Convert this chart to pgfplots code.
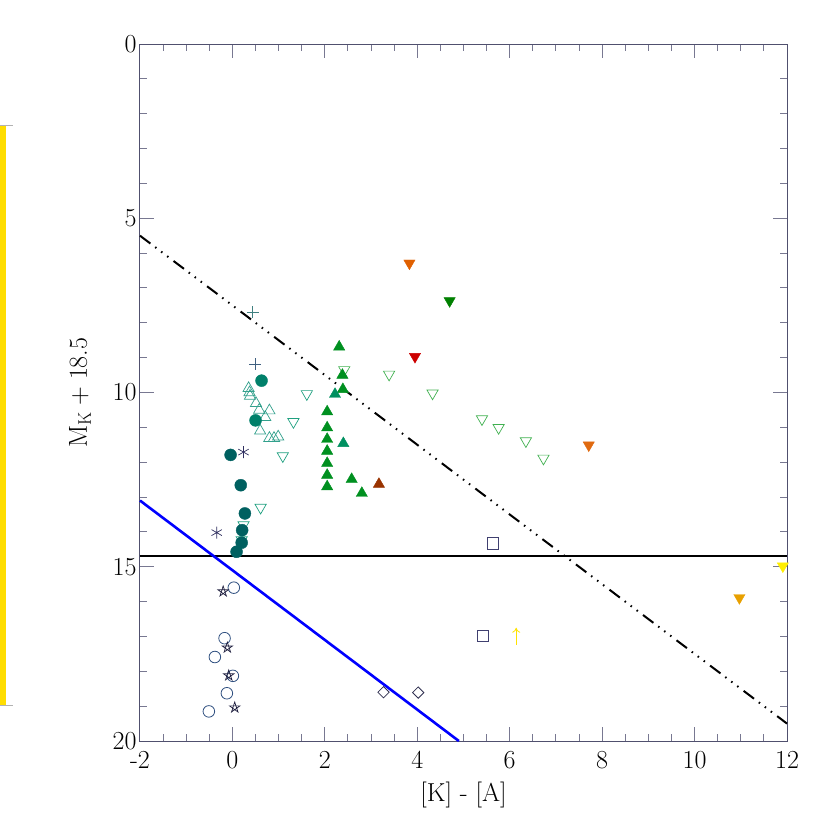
\documentclass[border=0pt]{standalone}
\usepackage{pgfplots}
\pgfplotsset{compat=1.18}
\usetikzlibrary{arrows.meta}
\definecolor{axcol}{RGB}{80,80,110}
\definecolor{tickcol}{RGB}{120,120,145}
\definecolor{barcol}{RGB}{255,221,0}
\definecolor{circA}{RGB}{0,128,106}
\definecolor{circB}{RGB}{0,96,96}
\definecolor{otriup}{RGB}{50,160,140}
\definecolor{otridnA}{RGB}{32,160,128}
\definecolor{otridnB}{RGB}{64,176,80}
\definecolor{ftriG}{RGB}{0,144,32}
\definecolor{ftriT}{RGB}{0,144,96}
\definecolor{brownc}{RGB}{153,51,0}
\definecolor{orangeA}{RGB}{224,96,0}
\definecolor{greenD}{RGB}{0,128,0}
\definecolor{redD}{RGB}{204,0,0}
\definecolor{orangeB}{RGB}{224,106,16}
\definecolor{goldD}{RGB}{232,160,0}
\definecolor{yellD}{RGB}{255,238,0}
\definecolor{plusA}{RGB}{64,128,128}
\definecolor{plusB}{RGB}{64,96,128}
\definecolor{astc}{RGB}{48,48,96}
\definecolor{ocirc}{RGB}{48,80,128}
\definecolor{starc}{RGB}{32,32,64}
\definecolor{diamc}{RGB}{48,48,80}
\definecolor{sqc}{RGB}{64,64,112}
\pgfdeclareplotmark{pentagram}{%
  \pgfpathmoveto{\pgfqpointpolar{90}{\pgfplotmarksize}}%
  \pgfpathlineto{\pgfqpointpolar{234}{\pgfplotmarksize}}%
  \pgfpathlineto{\pgfqpointpolar{18}{\pgfplotmarksize}}%
  \pgfpathlineto{\pgfqpointpolar{162}{\pgfplotmarksize}}%
  \pgfpathlineto{\pgfqpointpolar{306}{\pgfplotmarksize}}%
  \pgfpathclose
  \pgfusepathqstroke}
\begin{document}
\begin{tikzpicture}
\begin{axis}[
  scale only axis, width=647bp, height=697bp,
  xmin=-2, xmax=12, ymin=0, ymax=20, y dir=reverse,
  xtick={-2,0,...,12}, ytick={0,5,...,20},
  minor x tick num=3, minor y tick num=4,
  tick align=inside, major tick length=14bp, minor tick length=7bp,
  axis line style={draw=axcol, line width=1bp},
  tick style={draw=tickcol, line width=1bp},
  tick label style={font=\fontsize{26bp}{30bp}\selectfont},
  x tick label style={yshift=-7bp},
  /pgf/number format/assume math mode=true,
  label style={font=\fontsize{26bp}{30bp}\selectfont},
  xlabel={[K] - [A]},
  ylabel={M\textsubscript{K}\hspace{0.25em}+\hspace{0.25em}18.5},
  xlabel style={at={(axis description cs:0.5,-0.078)}, anchor=center},
  ylabel style={at={(axis description cs:-0.082,0.5)}, anchor=base},
  clip=false,
]
% lines
\addplot[black, line width=2bp, dash pattern=on 13bp off 6bp on 1.5bp off 6bp on 1.5bp off 6bp on 1.5bp off 6.5bp] coordinates {(-2,5.5) (12,19.5)};
\addplot[black, line width=2bp] coordinates {(-2,14.7) (12,14.7)};
\addplot[blue, line width=2.6bp] coordinates {(-2,13.1) (4.9,20)};
% open up triangles
\addplot[only marks, mark=triangle, mark size=6.5bp, otriup, line width=0.7bp] coordinates {
(0.35,9.88) (0.37,10.0) (0.38,10.1) (0.51,10.31) (0.58,10.5) (0.80,10.52) (0.71,10.71) (0.60,11.1) (0.80,11.31) (0.90,11.31) (0.99,11.27)};
% open down triangles
\addplot[only marks, mark=triangle, mark options={rotate=180}, mark size=6.5bp, otridnA, line width=0.7bp] coordinates {
(1.61,10.04) (1.32,10.84) (1.09,11.82) (0.61,13.30) (0.24,13.8) (0.20,14.23)};
\addplot[only marks, mark=triangle, mark options={rotate=180}, mark size=6.5bp, otridnB, line width=0.7bp] coordinates {
(2.42,9.35) (3.39,9.48) (4.33,10.02) (5.40,10.76) (5.76,11.01) (6.35,11.39) (6.73,11.89)};
% filled circles
\addplot[only marks, mark=*, mark size=6bp, circA] coordinates {(0.63,9.66) (0.50,10.80)};
\addplot[only marks, mark=*, mark size=6bp, circB] coordinates {
(-0.04,11.79) (0.18,12.66) (0.27,13.47) (0.21,13.95) (0.20,14.31) (0.09,14.57)};
% filled up triangles
\addplot[only marks, mark=triangle*, mark size=6.5bp, ftriG] coordinates {
(2.31,8.69) (2.38,9.50) (2.39,9.91) (2.05,10.55) (2.05,11.01) (2.05,11.34) (2.05,11.68) (2.05,12.03) (2.05,12.37) (2.05,12.70) (2.58,12.49) (2.80,12.89)};
\addplot[only marks, mark=triangle*, mark size=6.5bp, ftriT] coordinates {(2.22,10.05) (2.40,11.46)};
\addplot[only marks, mark=triangle*, mark size=6.5bp, brownc] coordinates {(3.17,12.63)};
% filled down triangles
\addplot[only marks, mark=triangle*, mark options={rotate=180}, mark size=6.5bp, orangeA] coordinates {(3.83,6.29)};
\addplot[only marks, mark=triangle*, mark options={rotate=180}, mark size=6.5bp, greenD] coordinates {(4.70,7.37)};
\addplot[only marks, mark=triangle*, mark options={rotate=180}, mark size=6.5bp, redD] coordinates {(3.95,8.97)};
\addplot[only marks, mark=triangle*, mark options={rotate=180}, mark size=6.5bp, orangeB] coordinates {(7.71,11.51)};
\addplot[only marks, mark=triangle*, mark options={rotate=180}, mark size=6.5bp, goldD] coordinates {(10.97,15.89)};
\addplot[only marks, mark=triangle*, mark options={rotate=180}, mark size=6.5bp, yellD] coordinates {(11.91,14.98)};
% plus
\addplot[only marks, mark=+, mark size=6bp, plusA, line width=0.7bp] coordinates {(0.44,7.70)};
\addplot[only marks, mark=+, mark size=6bp, plusB, line width=0.7bp] coordinates {(0.49,9.19)};
% asterisks
\addplot[only marks, mark=asterisk, mark size=6bp, astc, line width=0.7bp] coordinates {(0.24,11.71) (-0.34,14.02)};
% open circles
\addplot[only marks, mark=o, mark size=5.8bp, ocirc, line width=0.8bp] coordinates {
(0.03,15.6) (-0.17,17.05) (-0.38,17.59) (0.01,18.13) (-0.12,18.63) (-0.51,19.15)};
% stars
\addplot[only marks, mark=pentagram, mark size=5.5bp, starc, line width=0.7bp] coordinates {
(-0.20,15.71) (-0.11,17.32) (-0.08,18.12) (0.05,19.04)};
% diamonds
\addplot[only marks, mark=square, mark options={rotate=45}, mark size=4bp, diamc, line width=0.8bp] coordinates {(3.27,18.6) (4.02,18.61)};
% squares
\addplot[only marks, mark=square, mark size=5.6bp, sqc, line width=0.8bp] coordinates {(5.63,14.33) (5.42,16.99)};
% arrow
\addplot[yellD!90!orange, line width=0.8bp, -{To[length=5bp,width=8bp]}, quiver={u=0,v=-0.5}] coordinates {(6.14,17.25)};
\coordinate (BL) at (axis cs:-2,20);
\coordinate (TR) at (axis cs:12,0);
\end{axis}
\fill[barcol] ([shift={(-140bp,36bp)}]BL) rectangle ([shift={(-134bp,616bp)}]BL);
\draw[gray!60, line width=0.8bp] ([shift={(-140bp,36bp)}]BL) -- ++(13bp,0);
\draw[gray!60, line width=0.8bp] ([shift={(-140bp,616bp)}]BL) -- ++(13bp,0);
\pgfresetboundingbox
\path ([shift={(-140bp,-89bp)}]BL) rectangle ([shift={(43bp,44bp)}]TR);
\end{tikzpicture}
\end{document}
